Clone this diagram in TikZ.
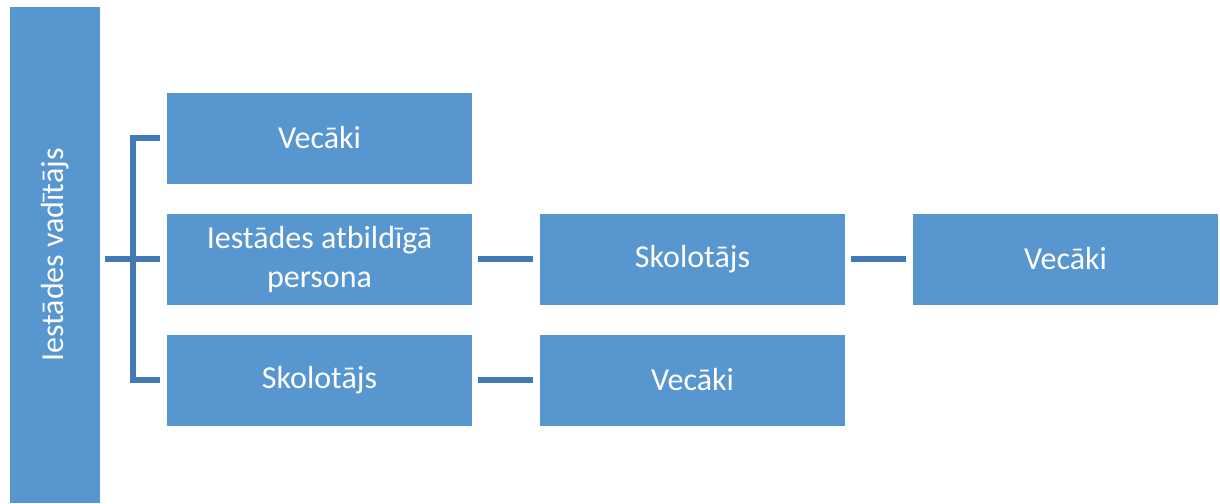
\documentclass[tikz,border=0pt]{standalone}
\usepackage{fontspec}
\setmainfont{Carlito}
\usepackage{tikz}
\usepackage{xcolor}
\definecolor{boxblue}{RGB}{88,150,208}
\definecolor{linkblue}{RGB}{66,121,182}
\tikzset{font={\fontsize{16pt}{19.5pt}\selectfont}}

\begin{document}
\begin{tikzpicture}[x=0.5pt,y=-0.5pt,node distance=60.5pt,
                    main node/.style={rectangle,fill=boxblue,text=white,inner sep=0pt,
                                      minimum width=152.5pt,minimum height=45.5pt,align=center},
                    link/.style={draw=linkblue,line width=2.6pt,shorten <=3pt,shorten >=3.5pt}]

  \useasboundingbox (0,0) rectangle (1220,503);

  \node[main node,minimum width=45pt,minimum height=248pt] (lead) at (55,255)
       {\rotatebox{90}{Iestādes vadītājs}};
  \node[main node] (vec1) at (319.5,138) {Vecāki};
  \node[main node] (pers) [below of=vec1] {Iestādes atbildīgā\\persona};
  \node[main node] (skol1) [below of=pers] {Skolotājs};
  \node[main node] (skol2) [node distance=186.5pt,right of=pers] {Skolotājs};
  \node[main node] (vec3) [node distance=186.5pt,right of=skol2] {Vecāki};
  \node[main node] (vec2) [node distance=186.5pt,right of=skol1] {Vecāki};

  \coordinate (j) at (133,0);

  % bracket
  \draw[link,shorten <=0pt,shorten >=0pt,line cap=butt]
    ([xshift=-3.5pt]vec1.west) -| (skol1.west -| j) -- ([xshift=-3.5pt]skol1.west);
  \draw[link,shorten <=2.5pt] (lead.east |- pers.west) -- (pers.west);

  \path[link]
    (pers) edge (skol2)
    (skol2) edge (vec3)
    (skol1) edge (vec2);
\end{tikzpicture}
\end{document}
